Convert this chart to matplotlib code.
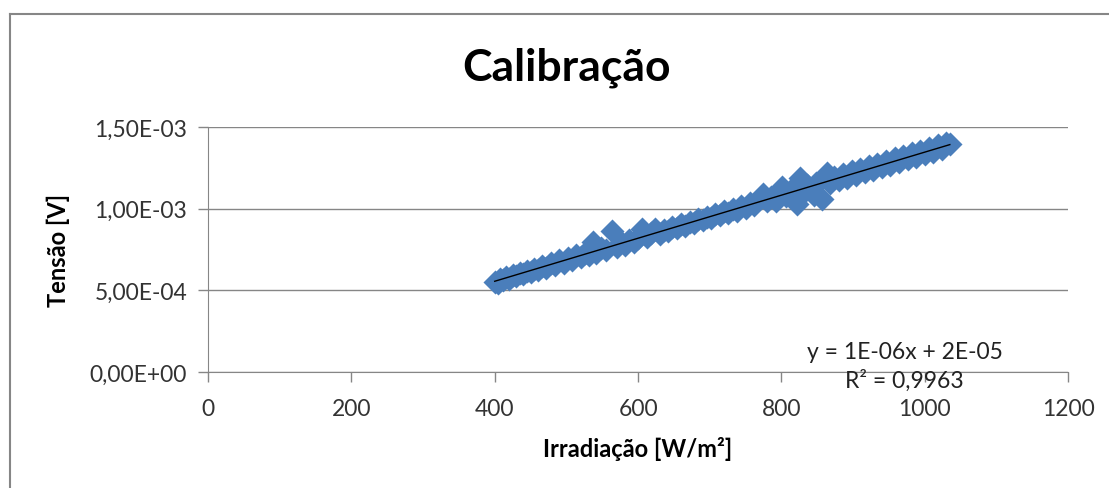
import numpy as np
import matplotlib
matplotlib.use("Agg")
import matplotlib.pyplot as plt
from matplotlib.lines import Line2D

plt.rcParams['font.family'] = ['Lato', 'DejaVu Sans']

# irradiance [W/m2] and voltage [1e-4 V]
irradiacao = [400, 404, 408, 412, 416, 420, 425, 430, 435, 440, 445, 450, 455, 460,
              466, 472, 478, 484, 490, 496, 502, 508, 514, 520, 526, 532, 537, 542,
              548, 555, 564, 570, 576, 582, 588, 594, 600, 605, 612, 618, 624, 630,
              636, 642, 648, 654, 660, 666, 672, 678, 684, 690, 696, 702, 708, 714,
              720, 726, 732, 738, 744, 750, 756, 762, 768, 774, 780, 786, 792, 801,
              806, 812, 818, 822, 826, 826, 830, 836, 842, 845, 848, 857, 863, 868,
              874, 880, 886, 892, 898, 904, 910, 916, 922, 928, 934, 940, 946, 952,
              958, 964, 970, 976, 982, 988, 994, 1000, 1006, 1012, 1018, 1024, 1030, 1035]
tensao_e4 = [5.50, 5.45, 5.70, 5.62, 5.80, 5.72, 5.92, 5.85, 6.05, 5.98, 6.20, 6.10, 6.33, 6.25,
             6.48, 6.38, 6.65, 6.55, 6.85, 6.70, 6.98, 6.88, 7.15, 7.02, 7.30, 7.15, 7.95, 7.30,
             7.62, 7.45, 8.62, 7.65, 7.95, 7.80, 8.10, 7.98, 8.20, 8.75, 8.25, 8.50, 8.78, 8.45,
             8.72, 8.62, 8.88, 8.80, 9.05, 8.95, 9.20, 9.12, 9.38, 9.28, 9.52, 9.42, 9.68, 9.60,
             9.85, 9.72, 10.00, 9.88, 10.18, 10.05, 10.35, 10.20, 10.55, 10.90, 10.45, 10.72, 10.50, 11.30,
             10.75, 11.10, 10.90, 10.30, 11.85, 10.75, 11.05, 11.45, 11.25, 10.85, 11.60, 10.60, 12.20, 11.60,
             11.95, 11.75, 12.10, 11.90, 12.30, 12.05, 12.45, 12.22, 12.60, 12.38, 12.75, 12.55, 12.92, 12.70,
             13.08, 12.85, 13.25, 13.02, 13.40, 13.18, 13.55, 13.35, 13.72, 13.50, 13.88, 13.68, 14.05, 13.95]

x = np.array(irradiacao, dtype=float)
y = np.array(tensao_e4) * 1e-4

fig = plt.figure(figsize=(11.09, 4.89), dpi=100)
ax = fig.add_axes([0.1876, 0.2372, 0.7755, 0.5010])

grey = '#868686'
ax.scatter(x, y, marker='D', s=150, color='#4a7ebb', linewidths=0, zorder=3)

coef = np.polyfit(x, y, 1)
xl = np.array([x.min(), x.max()])
ax.plot(xl, np.polyval(coef, xl), color='black', linewidth=1, zorder=4)

ax.set_xlim(0, 1200)
ax.set_ylim(0, 1.5e-3)
ax.set_xticks(range(0, 1201, 200))
yt = [0, 5e-4, 1e-3, 1.5e-3]
ax.set_yticks(yt)
ax.set_yticklabels(['0,00E+00', '5,00E-04', '1,00E-03', '1,50E-03'])
ax.grid(axis='y', color=grey, linewidth=1)
ax.set_axisbelow(True)
for s in ['top', 'right']:
    ax.spines[s].set_visible(False)
for s in ['left', 'bottom']:
    ax.spines[s].set_color(grey)
ax.tick_params(axis='both', colors=grey, labelcolor='#333333', labelsize=16.5, length=7, width=1)
ax.tick_params(axis='x', pad=12)
ax.tick_params(axis='y', pad=8)

fig.text(566 / 1109, 1 - 68 / 489, 'Calibração', fontsize=32, fontweight='bold',
         ha='center', va='center')
ax.set_xlabel('Irradiação [W/m²]', fontsize=17, fontweight='bold', labelpad=12)
ax.set_ylabel('Tensão [V]', fontsize=17, fontweight='bold', labelpad=14)

ax.text(972, 1.28e-4, 'y = 1E-06x + 2E-05', fontsize=16.5, ha='center', va='center', color='#222222')
ax.text(972, -0.45e-4, 'R² = 0,9963', fontsize=16.5, ha='center', va='center', color='#222222')

# chart frame (top and left edges visible in the source)
fig.add_artist(Line2D([0.009, 1.0], [1 - 15 / 489, 1 - 15 / 489], color=grey, linewidth=1.5))
fig.add_artist(Line2D([0.009, 0.009], [0, 1 - 15 / 489], color=grey, linewidth=1.5))

fig.savefig('out.png', dpi=100)
